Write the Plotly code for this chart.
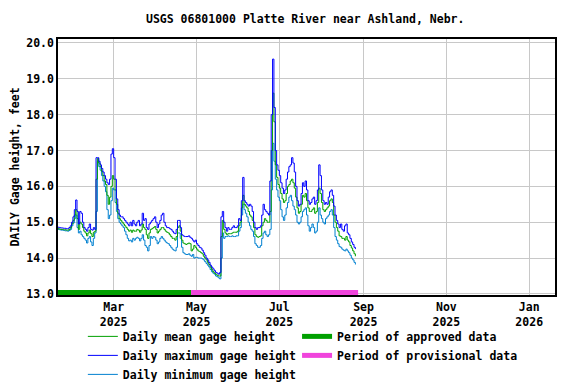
import pandas as pd
import plotly.graph_objects as go

# daily values, 2025-01-19 .. 2025-08-26 (feet)
start_date = "2025-01-19"

gage_max = [
    14.86, 14.85, 14.84, 14.84, 14.83, 14.83, 14.82, 14.82, 14.85, 14.90,
    15.00, 15.15, 15.35, 15.62, 15.30, 14.95, 15.30, 15.25, 15.00, 14.85,
    14.80, 14.75, 14.85, 14.95, 14.80, 14.78, 14.85, 14.80, 16.80, 16.80,
    16.70, 16.60, 16.50, 16.40, 16.30, 16.20, 16.10, 16.05, 16.20, 16.90,
    17.05, 16.80, 16.20, 15.65, 15.35, 15.20, 15.15, 15.15, 15.10, 15.05,
    15.00, 14.95, 14.90, 15.00, 14.90, 15.05, 14.95, 14.90, 15.00, 15.05,
    14.90, 14.95, 15.25, 15.05, 15.10, 14.85, 14.80, 14.95, 15.00, 15.05,
    15.10, 15.15, 15.00, 14.85, 14.95, 15.05, 15.20, 15.25, 15.00, 14.90,
    14.85, 14.85, 14.82, 14.80, 14.75, 14.70, 14.68, 14.80, 15.05, 15.05,
    14.85, 14.65, 14.62, 14.60, 14.60, 14.60, 14.62, 14.58, 14.55, 14.50,
    14.45, 14.50, 14.40, 14.35, 14.30, 14.28, 14.22, 14.15, 14.08, 14.00,
    13.95, 13.88, 13.80, 13.75, 13.70, 13.65, 13.60, 13.58, 13.55, 13.60,
    15.15, 15.30, 15.00, 14.85, 14.75, 14.85, 14.80, 14.80, 14.85, 14.90,
    14.85, 14.85, 14.90, 15.10, 15.05, 15.60, 16.25, 15.60, 15.55, 15.50,
    15.45, 15.50, 15.45, 15.30, 15.00, 14.85, 14.80, 14.85, 14.85, 14.90,
    15.20, 15.50, 15.35, 15.30, 15.25, 15.20, 16.15, 18.00, 19.55, 18.20,
    17.00, 16.60, 16.45, 16.30, 16.10, 15.95, 15.80, 15.90, 16.20, 16.40,
    16.55, 16.60, 16.80, 16.65, 16.40, 16.00, 15.60, 15.45, 15.50, 15.80,
    16.10, 16.00, 16.15, 15.90, 15.60, 15.50, 15.55, 15.65, 15.70, 15.50,
    15.60, 15.90, 16.60, 16.30, 15.90, 15.60, 15.50, 15.55, 15.50, 15.70,
    15.85, 15.90, 15.75, 15.45, 15.20, 15.05, 14.95, 14.85, 14.95, 14.80,
    14.75, 14.90, 14.95, 14.70, 14.65, 14.55, 14.45, 14.38, 14.30, 14.25,
]

gage_mean = [
    14.82, 14.81, 14.80, 14.80, 14.79, 14.79, 14.78, 14.78, 14.80, 14.85,
    14.95, 15.05, 15.20, 15.35, 15.10, 14.80, 15.00, 14.95, 14.85, 14.75,
    14.70, 14.62, 14.70, 14.78, 14.68, 14.60, 14.72, 14.75, 16.20, 16.78,
    16.65, 16.55, 16.42, 16.30, 16.15, 16.05, 15.75, 15.50, 15.70, 16.00,
    16.30, 16.20, 15.90, 15.50, 15.25, 15.10, 15.05, 15.00, 14.95, 14.90,
    14.85, 14.80, 14.75, 14.78, 14.72, 14.78, 14.75, 14.75, 14.80, 14.78,
    14.72, 14.78, 14.95, 14.85, 14.80, 14.65, 14.55, 14.70, 14.80, 14.82,
    14.85, 14.88, 14.80, 14.70, 14.75, 14.80, 14.85, 14.85, 14.80, 14.75,
    14.72, 14.70, 14.65, 14.60, 14.55, 14.55, 14.50, 14.60, 14.85, 14.90,
    14.75, 14.50, 14.42, 14.40, 14.38, 14.40, 14.42, 14.40, 14.20, 14.25,
    14.35, 14.30, 14.25, 14.20, 14.18, 14.15, 14.12, 14.05, 14.00, 13.95,
    13.88, 13.82, 13.75, 13.68, 13.62, 13.58, 13.55, 13.52, 13.50, 13.50,
    14.60, 15.05, 14.80, 14.70, 14.65, 14.68, 14.68, 14.68, 14.70, 14.72,
    14.72, 14.72, 14.75, 14.90, 15.00, 15.40, 15.75, 15.50, 15.45, 15.40,
    15.30, 15.20, 15.15, 15.05, 14.85, 14.65, 14.60, 14.58, 14.60, 14.62,
    14.90, 15.00, 15.10, 15.05, 15.00, 15.00, 15.30, 17.00, 18.60, 17.80,
    16.60, 16.25, 16.05, 15.95, 15.80, 15.65, 15.55, 15.60, 15.80, 16.00,
    16.05, 16.15, 16.20, 16.10, 15.95, 15.70, 15.40, 15.25, 15.30, 15.50,
    15.75, 15.70, 15.80, 15.60, 15.40, 15.30, 15.30, 15.35, 15.40, 15.25,
    15.30, 15.55, 15.95, 15.80, 15.55, 15.35, 15.30, 15.35, 15.40, 15.45,
    15.60, 15.65, 15.55, 15.20, 15.00, 14.85, 14.75, 14.62, 14.60, 14.55,
    14.55, 14.50, 14.60, 14.50, 14.45, 14.35, 14.28, 14.20, 14.12, 14.05,
]

gage_min = [
    14.80, 14.79, 14.78, 14.78, 14.77, 14.76, 14.76, 14.75, 14.77, 14.80,
    14.90, 14.98, 15.10, 15.20, 14.85, 14.70, 14.75, 14.65, 14.60, 14.55,
    14.50, 14.42, 14.55, 14.60, 14.45, 14.35, 14.55, 14.70, 15.30, 16.70,
    16.55, 16.45, 16.30, 16.15, 16.00, 15.85, 15.35, 15.10, 15.20, 15.60,
    15.95, 15.90, 15.55, 15.30, 15.10, 15.00, 14.95, 14.90, 14.85, 14.75,
    14.65, 14.55, 14.48, 14.50, 14.45, 14.55, 14.50, 14.55, 14.58, 14.55,
    14.48, 14.55, 14.65, 14.50, 14.35, 14.30, 14.20, 14.35, 14.60, 14.55,
    14.60, 14.58, 14.50, 14.40, 14.45, 14.55, 14.60, 14.55, 14.50, 14.45,
    14.42, 14.40, 14.35, 14.30, 14.25, 14.22, 14.20, 14.30, 14.70, 14.70,
    14.55, 14.30, 14.15, 14.12, 14.10, 14.10, 14.12, 14.08, 14.05, 14.10,
    14.00, 14.02, 14.02, 14.00, 14.00, 14.00, 13.98, 13.95, 13.90, 13.85,
    13.80, 13.75, 13.68, 13.62, 13.58, 13.55, 13.50, 13.48, 13.45, 13.42,
    14.00, 14.70, 14.55, 14.60, 14.60, 14.62, 14.60, 14.60, 14.62, 14.60,
    14.60, 14.62, 14.62, 14.75, 14.85, 15.20, 15.50, 15.35, 15.25, 15.15,
    15.00, 14.90, 14.80, 14.75, 14.60, 14.40, 14.35, 14.30, 14.30, 14.35,
    14.55, 14.70, 14.75, 14.65, 14.60, 14.65, 14.80, 15.90, 17.20, 16.70,
    16.20, 15.90, 15.70, 15.60, 15.35, 15.15, 15.05, 15.20, 15.40, 15.55,
    15.70, 15.75, 15.60, 15.45, 15.35, 15.20, 15.00, 14.95, 15.00, 15.15,
    15.30, 15.35, 15.40, 15.20, 14.90, 14.75, 14.85, 14.95, 14.85, 14.70,
    14.75, 15.00, 15.40, 15.20, 15.10, 15.00, 14.95, 15.10, 15.15, 15.20,
    15.30, 15.35, 15.20, 14.85, 14.60, 14.50, 14.40, 14.32, 14.30, 14.25,
    14.22, 14.20, 14.25, 14.20, 14.15, 14.08, 14.00, 13.95, 13.88, 13.82,
]

approved_period = ["2025-01-19", "2025-04-27"]
provisional_period = ["2025-04-27", "2025-08-28"]

tick_dates = ["2025-03-01", "2025-05-01", "2025-07-01", "2025-09-01", "2025-11-01", "2026-01-01"]
tick_text = ["Mar<br>2025", "May<br>2025", "Jul<br>2025", "Sep<br>2025", "Nov<br>2025", "Jan<br>2026"]

dates = pd.date_range(start_date, periods=len(gage_mean), freq="D")

font_main = dict(family="DejaVu Sans Mono", size=11.5, color="black", weight="bold")

fig = go.Figure()
# min first so it sits underneath; legendrank keeps the legend order
fig.add_trace(go.Scatter(x=dates, y=gage_min, mode="lines", name="Daily minimum gage height",
                         legend="legend", legendrank=3, line=dict(color="#0080d0", width=1, shape="hv")))
fig.add_trace(go.Scatter(x=dates, y=gage_mean, mode="lines", name="Daily mean gage height",
                         legend="legend", legendrank=1, line=dict(color="#00a000", width=1, shape="hv")))
fig.add_trace(go.Scatter(x=dates, y=gage_max, mode="lines", name="Daily maximum gage height",
                         legend="legend", legendrank=2, line=dict(color="#0000ff", width=1, shape="hv")))
fig.add_trace(go.Scatter(x=approved_period, y=[13.04, 13.04], mode="lines", name="Period of approved data",
                         legend="legend2", legendrank=1, line=dict(color="#00a000", width=5)))
fig.add_trace(go.Scatter(x=provisional_period, y=[13.04, 13.04], mode="lines", name="Period of provisional data",
                         legend="legend2", legendrank=2, line=dict(color="#f044dc", width=5)))

# the page puts the figure 8px in from the top-left corner, margins compensate
legend_common = dict(orientation="v", xanchor="left", y=-0.105, yanchor="top",
                     font=font_main, bgcolor="rgba(0,0,0,0)", tracegroupgap=0)
fig.update_layout(
    width=576, height=384,
    margin=dict(l=50, r=29, t=31, b=97, autoexpand=False),
    paper_bgcolor="white", plot_bgcolor="white",
    font=font_main,
    title=dict(text="USGS 06801000 Platte River near Ashland, Nebr.", x=0.516, xanchor="center",
               y=0.972, yanchor="middle", font=font_main),
    showlegend=True,
    legend=dict(x=0.05, **legend_common),
    legend2=dict(x=0.481, **legend_common),
)
fig.update_xaxes(
    type="date", range=["2025-01-19", "2026-01-20"],
    tickvals=tick_dates, ticktext=tick_text, tickangle=0,
    showgrid=True, gridcolor="#c8c8c8", gridwidth=1,
    showline=True, linecolor="black", linewidth=1.5, mirror=True,
    ticks="", zeroline=False,
)
fig.update_yaxes(
    range=[12.97, 20.11], tickvals=[13, 14, 15, 16, 17, 18, 19, 20], tickformat=".1f",
    title=dict(text="DAILY Gage height, feet", font=font_main, standoff=6),
    showgrid=True, gridcolor="#c8c8c8", gridwidth=1,
    showline=True, linecolor="black", linewidth=1.5, mirror=True,
    ticks="", zeroline=False,
)

fig.write_html("out.html")
